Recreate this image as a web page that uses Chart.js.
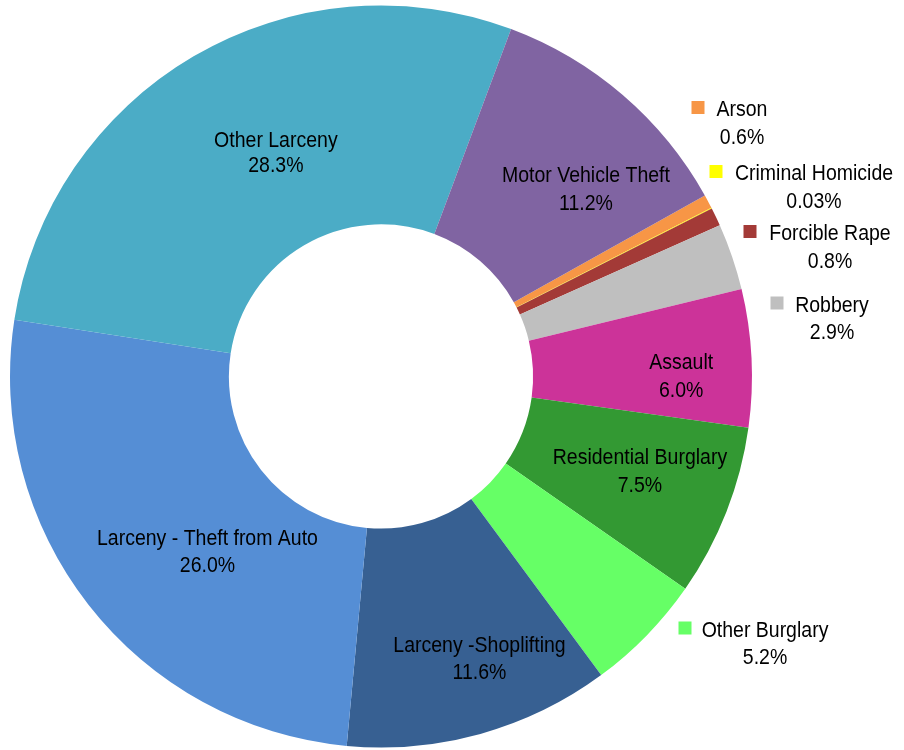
<!DOCTYPE html>
<html>
<head>
<meta charset="utf-8">
<script src="https://cdn.jsdelivr.net/npm/chart.js@4/dist/chart.umd.min.js"></script>
<style>
  html, body { margin: 0; padding: 0; background: #fff; }
  #wrap { width: 904px; height: 750px; }
</style>
</head>
<body>
<div id="wrap"><canvas id="chart1"></canvas></div>
<script>
// crime categories, clockwise starting just after Motor Vehicle Theft
const categories = [
    "Arson", "Criminal Homicide", "Forcible Rape", "Robbery", "Assault",
    "Residential Burglary", "Other Burglary", "Larceny -Shoplifting",
    "Larceny - Theft from Auto", "Other Larceny", "Motor Vehicle Theft"
];
const shares = [0.6, 0.03, 0.8, 2.9, 6.0, 7.5, 5.2, 11.6, 26.0, 28.3, 11.2];
const shareText = ["0.6%", "0.03%", "0.8%", "2.9%", "6.0%", "7.5%", "5.2%", "11.6%", "26.0%", "28.3%", "11.2%"];

const colors = [
    "#f79646",  // orange
    "#ffff00",  // yellow
    "#a33a37",  // dark red
    "#bfbfbf",  // grey
    "#cc3399",  // magenta
    "#339933",  // green
    "#66ff66",  // light green
    "#376092",  // dark blue
    "#558ed5",  // blue
    "#4bacc6",  // teal
    "#8064a2"   // purple
];

// label placement: inside labels are nudged from the arc centre (first baseline),
// outside labels get a legend key and sit in the right margin
const labelStyle = [
    { out: true, x: 742, y: 116, key: 698 },
    { out: true, x: 814, y: 180, key: 716 },
    { out: true, x: 830, y: 240, key: 750 },
    { out: true, x: 832, y: 311.5, key: 777 },
    { dx: 39, dy: 5.5 },
    { dx: 15.5, dy: -8 },
    { out: true, x: 765, y: 636.5, key: 685 },
    { dx: 28.4, dy: 23.5 },
    { dx: 32.7, dy: 7.6 },
    { dx: 27, dy: -4, line: 25 },
    { dx: 34.5, dy: 4 }
];

const FONT = "22px 'Liberation Sans', Arial, sans-serif";
const SQUEEZE = 0.886;   // no narrow font installed, so condense by hand
const LINE = 27.5;

function narrowText(ctx, text, x, y) {
    ctx.save();
    ctx.translate(x, y);
    ctx.scale(SQUEEZE, 1);
    ctx.fillText(text, 0, 0);
    ctx.restore();
}

const sliceLabels = {
    id: "sliceLabels",
    afterDatasetsDraw(chart) {
        const ctx = chart.ctx;
        const arcs = chart.getDatasetMeta(0).data;
        ctx.save();
        ctx.font = FONT;
        ctx.textAlign = "center";
        ctx.textBaseline = "alphabetic";
        arcs.forEach((arc, i) => {
            const st = labelStyle[i];
            let x, y;
            if (st.out) {
                x = st.x; y = st.y;
                ctx.fillStyle = colors[i];
                ctx.fillRect(st.key - 6.5, y - 15, 13, 13);
            } else {
                const p = arc.tooltipPosition();
                x = p.x + st.dx;
                y = p.y + st.dy;
            }
            ctx.fillStyle = "#000";
            narrowText(ctx, categories[i], x, y);
            narrowText(ctx, shareText[i], x, y + (st.line || LINE));
        });
        ctx.restore();
    }
};

new Chart(document.getElementById("chart1").getContext("2d"), {
    type: "doughnut",
    data: {
        labels: categories,
        datasets: [{
            data: shares,
            backgroundColor: colors,
            borderWidth: 0
        }]
    },
    options: {
        responsive: true,
        maintainAspectRatio: false,
        animation: false,
        rotation: 60.8,
        cutout: "41%",
        layout: { padding: { left: 10, right: 152, top: 5, bottom: 2 } },
        plugins: {
            legend: { display: false },
            tooltip: { enabled: false }
        }
    },
    plugins: [sliceLabels]
});
</script>
</body>
</html>
